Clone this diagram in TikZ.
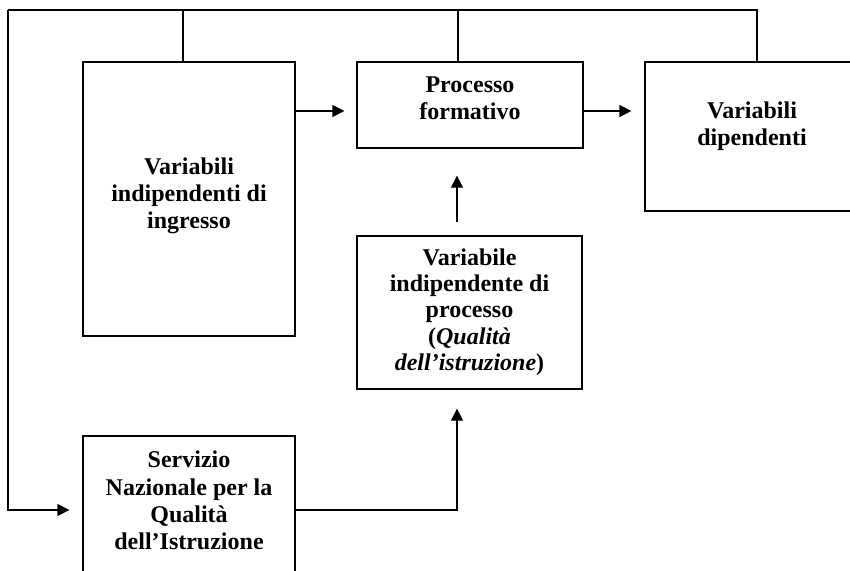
\documentclass[tikz,border=0pt]{standalone}
\usepackage{fontspec}
\setmainfont{Liberation Serif}
\usepackage{tikz}
\usetikzlibrary{arrows.meta}
\tikzstyle{box}=[draw, line width=1.3pt, inner sep=0pt]
\tikzstyle{txt}=[align=center, inner sep=0pt, font=\bfseries\fontsize{24}{27.3}\selectfont]
\tikzstyle{conn}=[line width=1.3pt]
\tikzstyle{arrow}=[conn, -{Triangle[length=12pt, width=12pt]}]

\begin{document}
\begin{tikzpicture}[x=1pt, y=-1pt]
        \path[use as bounding box] (0,0) rectangle (850,570);
        \clip (0,0) rectangle (850,570);
        % boxes
        \node[box, minimum width=212pt, minimum height=274pt] (ingresso) at (189,199) {};
        \node[box, minimum width=226pt, minimum height=86pt]  (processo) at (470,105) {};
        \node[box, minimum width=214pt, minimum height=149pt] (dipendenti) at (752,136.5) {};
        \node[box, minimum width=225pt, minimum height=153pt] (qualita) at (469.5,312.5) {};
        \node[box, minimum width=212pt, minimum height=148pt] (servizio) at (189,510) {};
        % texts
        \node[txt] (ingressoT) at (189,196) {Variabili\\indipendenti di\\ingresso};
        \node[txt] (processoT) at (470,98.5) {Processo\\formativo};
        \node[txt] (dipendentiT) at (752,126.5) {Variabili\\dipendenti};
        \node[txt, font=\bfseries\fontsize{24}{26.3}\selectfont] (qualitaT) at (469.5,312)
            {Variabile\\indipendente di\\processo\\(\textit{Qualità}\\\textit{dell’istruzione})};
        \node[txt] (servizioT) at (189,500.5) {Servizio\\Nazionale per la\\Qualità\\dell’Istruzione};
        % feedback line
        \coordinate (topL) at (8,10);
        \coordinate (topR) at (757,10);
        \draw[conn] (topL) -- (topR) -- (dipendenti.north -| topR);
        \draw[conn] ([xshift=-6pt]ingresso.north) -- ([xshift=-6pt]ingresso.north |- topL);
        \draw[conn] ([xshift=-12pt]processo.north) -- ([xshift=-12pt]processo.north |- topL);
        \draw[arrow, shorten >=13pt] (topL) |- (servizio.west);
        % main flow
        \draw[arrow, shorten >=12pt] ([yshift=-6pt]ingresso.east |- processo.west) -- ([yshift=-6pt]processo.west);
        \draw[arrow, shorten >=13pt] ([yshift=-6pt]processo.east) -- ([yshift=-6pt]processo.east -| dipendenti.west);
        \draw[arrow, shorten <=13pt, shorten >=27pt] ([xshift=-12.5pt]qualita.north) -- ([xshift=-12.5pt]qualita.north |- processo.south);
        \draw[arrow, shorten >=19pt] (servizio.east) -| ([xshift=-12.5pt]qualita.south);
    \end{tikzpicture}
\end{document}
